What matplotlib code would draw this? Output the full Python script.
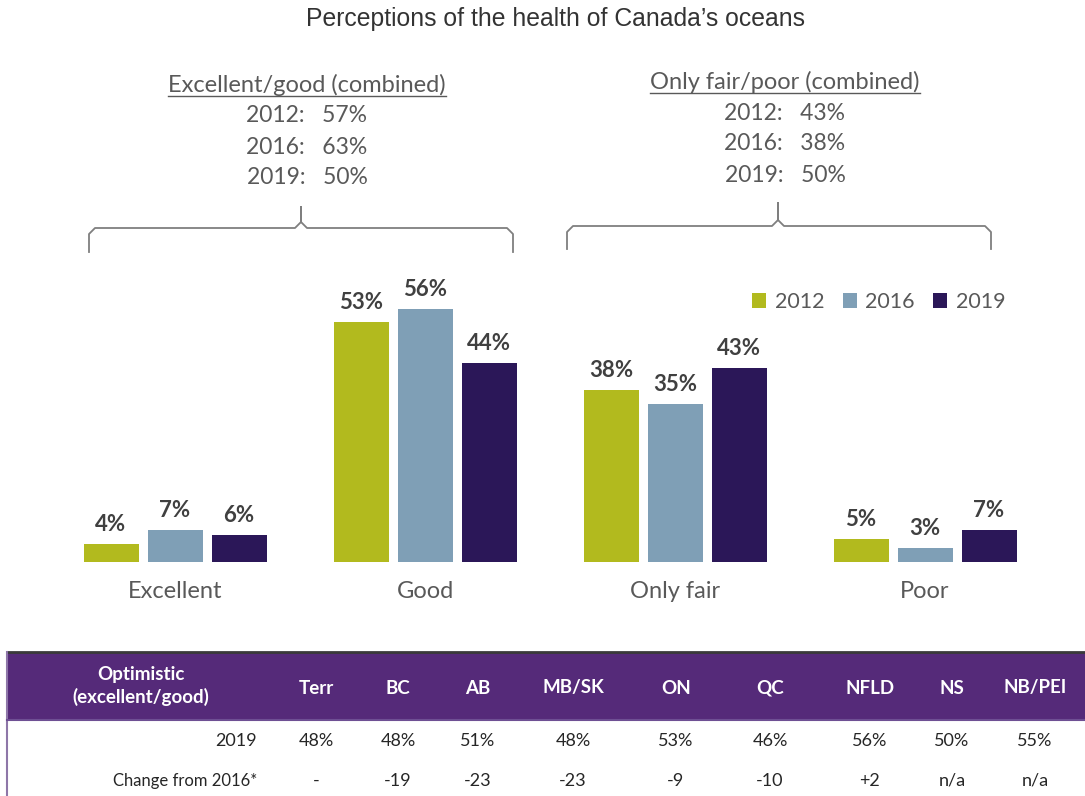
import numpy as np
import matplotlib
matplotlib.use("Agg")
import matplotlib.pyplot as plt
from matplotlib.lines import Line2D
from matplotlib.patches import Rectangle, Patch

# ----
# Data
# ----
categories = ["Excellent", "Good", "Only fair", "Poor"]
years = ["2012", "2016", "2019"]
values_2012 = [4, 53, 38, 5]
values_2016 = [7, 56, 35, 3]
values_2019 = [6, 44, 43, 7]

good_combined = [57, 63, 50]
fair_poor_combined = [43, 38, 50]

regions = ["Terr", "BC", "AB", "MB/SK", "ON", "QC", "NFLD", "NS", "NB/PEI"]
optimistic_2019 = ["48%", "48%", "51%", "48%", "53%", "46%", "56%", "50%", "55%"]
change_from_2016 = ["-", "-19", "-23", "-23", "-9", "-10", "+2", "n/a", "n/a"]

colors = ["#b2ba1e", "#7f9fb6", "#2b1758"]
text_grey = "#404040"
label_grey = "#595959"
purple = "#552a79"

W, H = 1085, 796
FONT = "Lato"


def fx(px):
    return px / W


def fy(py):
    return 1 - py / H


fig = plt.figure(figsize=(W / 100, H / 100), dpi=100)

# ---------
# Bar chart
# ---------
# x data: group centre px = 175 + 250 * i ; baseline at py=562, 4.52 px per %
base_py = 562
px_per_pct = 4.52
ax = fig.add_axes([0, 1 - base_py / H, 1, base_py / H])
ax.set_xlim(-175 / 250, (W - 175) / 250)
ax.set_ylim(0, base_py / px_per_pct)
ax.axis("off")

x = np.arange(len(categories))
bar_w = 0.22
step = 0.256
series = [values_2012, values_2016, values_2019]
for k, (vals, col) in enumerate(zip(series, colors)):
    xs = x + (k - 1) * step
    ax.bar(xs, vals, width=bar_w, color=col)
    for xi, v in zip(xs, vals):
        ax.text(xi, v + 2.0, f"{v}%", ha="center", va="bottom",
                fontsize=16, fontweight="bold", color=text_grey, family=FONT)

for xi, cat in zip(x, categories):
    fig.text(fx(175 + 250 * xi), fy(592), cat, ha="center", va="center",
             fontsize=17, color=label_grey, family=FONT)

# Legend
handles = [Patch(facecolor=c, edgecolor="none") for c in colors]
fig.legend(handles, years, loc="center", bbox_to_anchor=(fx(879), fy(302)),
           ncol=3, frameon=False, handlelength=0.65, handleheight=0.65,
           handletextpad=0.4, columnspacing=0.85,
           prop={"family": FONT, "size": 15.5}, labelcolor=label_grey)

# -----
# Title
# -----
fig.text(fx(555), fy(19), "Perceptions of the health of Canada\u2019s oceans",
         ha="center", va="center", fontsize=17.8, color="#333333",
         family="Liberation Sans")


# -----------------------------
# Brackets with combined values
# -----------------------------
def bracket(x0, x1, xc, y_line, y_end, y_tip):
    r = 6
    xs = [x0, x0, x0 + r, xc - r, xc, xc, xc, xc + r, x1 - r, x1, x1]
    ys = [y_end, y_line + r, y_line, y_line, y_line - r, y_tip, y_line - r,
          y_line, y_line, y_line + r, y_end]
    fig.add_artist(Line2D([fx(v) for v in xs], [fy(v) for v in ys],
                          color="#7f7f7f", lw=1.3, solid_joinstyle="round"))


bracket(89, 513, 301, 228, 252, 207)
bracket(567, 991, 778, 226, 249, 203)


def combined_block(xc, y0, title, vals):
    t = fig.text(fx(xc), fy(y0), title, ha="center", va="center",
                 fontsize=17, color=label_grey, family=FONT)
    fig.canvas.draw()
    bb = t.get_window_extent()
    fig.add_artist(Line2D([bb.x0 / W, bb.x1 / W], [fy(y0 + 11)] * 2,
                          color=label_grey, lw=1))
    for i, (yr, v) in enumerate(zip(years, vals)):
        fig.text(fx(xc), fy(y0 + 31 * (i + 1)), f"{yr}:   {v}%",
                 ha="center", va="center", fontsize=16.5, color=label_grey,
                 family=FONT)


combined_block(307, 85, "Excellent/good (combined)", good_combined)
combined_block(785, 82, "Only fair/poor (combined)", fair_poor_combined)

# -----
# Table
# -----
fig.add_artist(Rectangle((fx(7), fy(720)), 1 - fx(7), (720 - 652) / H,
                         facecolor=purple, edgecolor="none"))
fig.add_artist(Line2D([fx(7), 1], [fy(652), fy(652)], color="#3a3a3a", lw=2))
fig.add_artist(Line2D([fx(7), fx(7)], [fy(652), 0], color="#8e76a8", lw=1.5))
fig.add_artist(Line2D([fx(7), 1], [fy(720), fy(720)], color="#6e4f93", lw=1.5))

col_x = [316, 398, 478, 573, 676, 770, 870, 952, 1035]
fig.text(fx(141), fy(686), "Optimistic\n(excellent/good)", ha="center",
         va="center", fontsize=13.5, fontweight="bold", color="white",
         family=FONT, linespacing=1.3)
for cx, reg, v19, ch in zip(col_x, regions, optimistic_2019, change_from_2016):
    fig.text(fx(cx), fy(688), reg, ha="center", va="center", fontsize=13.5,
             fontweight="bold", color="white", family=FONT)
    fig.text(fx(cx), fy(741), v19, ha="center", va="center", fontsize=13,
             color="#262626", family=FONT)
    fig.text(fx(cx), fy(781), ch, ha="center", va="center", fontsize=13,
             color="#262626", family=FONT)
fig.text(fx(257), fy(741), "2019", ha="right", va="center", fontsize=13,
         color="#262626", family=FONT)
fig.text(fx(257), fy(781), "Change from 2016*", ha="right", va="center",
         fontsize=12, color="#262626", family=FONT)

fig.savefig("out.png", dpi=100)
